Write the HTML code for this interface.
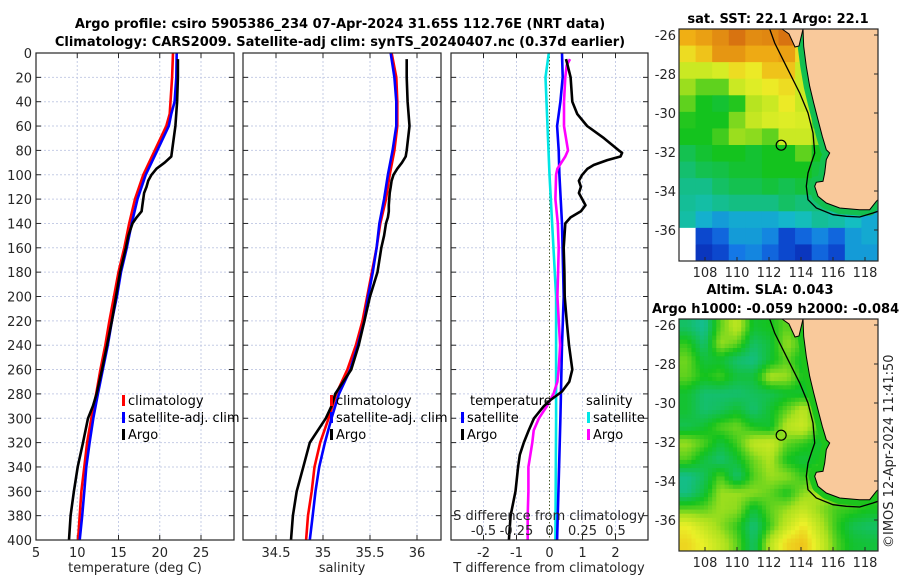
<!DOCTYPE html>
<html><head><meta charset="utf-8">
<style>
html,body{margin:0;padding:0;background:#fff;}
svg{display:block;font-family:"DejaVu Sans","Liberation Sans",sans-serif;}
.tk{font-size:13px;fill:#262626;}
.tt{font-size:13px;font-weight:bold;fill:#000;}
.lg{font-size:13px;fill:#000;}
</style></head>
<body>
<svg id="fig" width="900" height="580" viewBox="0 0 900 580" xmlns="http://www.w3.org/2000/svg">
<defs>
<clipPath id="clip-m1"><rect x="679" y="29" width="199" height="232"/></clipPath>
<clipPath id="clip-m2"><rect x="679" y="319" width="199" height="232"/></clipPath>
</defs>
<text class="tt" x="340" y="28" text-anchor="middle">Argo profile: csiro 5905386_234 07-Apr-2024 31.65S 112.76E (NRT data)</text>
<text class="tt" x="340" y="46" text-anchor="middle">Climatology: CARS2009. Satellite-adj clim: synTS_20240407.nc (0.37d earlier)</text>
<g id="p1"></g>
<g id="p2"></g>
<g id="p3"></g>
<g id="m1"></g>
<g id="m2"></g>
<text class="tt" x="778" y="23" text-anchor="middle">sat. SST: 22.1 Argo: 22.1</text>
<text class="tt" x="770" y="294" text-anchor="middle">Altim. SLA: 0.043</text>
<text class="tt" x="652" y="313">Argo h1000: -0.059 h2000: -0.084</text>
<text class="tk" x="0" y="0" transform="translate(893,548) rotate(-90)">©IMOS 12-Apr-2024 11:41:50</text>
</svg>
<script>
// ---- data ----
const depthClim = [0,20,40,50,60,80,100,120,140,160,180,200,220,240,260,280,300,320,340,360,380,400];
const tClim = [21.6,21.5,21.3,21.2,20.8,19.4,18.0,17.0,16.3,15.7,15.0,14.45,13.9,13.4,12.8,12.3,11.7,11.2,10.85,10.5,10.3,10.1];
const tSat = [22.05,22.0,21.8,21.4,21.1,19.7,18.3,17.3,16.6,16.0,15.3,14.8,14.2,13.7,13.1,12.5,11.95,11.5,11.1,10.85,10.6,10.3];
const depthArgo = [5,20,40,60,80,85,90,95,100,105,110,115,125,130,135,140,150,160,180,200,220,240,260,280,290,300,320,340,360,380,400];
const tArgo = [22.2,22.2,22.1,21.9,21.5,21.4,20.6,19.6,19.0,18.6,18.4,18.1,17.9,17.8,17.2,16.7,16.2,15.9,15.2,14.7,14.2,13.6,13.0,12.35,11.9,11.3,10.7,10.05,9.6,9.2,9.0];
const sClim = [35.73,35.78,35.79,35.79,35.79,35.76,35.71,35.67,35.61,35.57,35.52,35.47,35.42,35.35,35.26,35.14,35.06,34.97,34.91,34.88,34.84,34.82];
const sSat = [35.72,35.76,35.78,35.78,35.78,35.74,35.69,35.65,35.6,35.57,35.53,35.48,35.44,35.37,35.29,35.17,35.09,35.02,34.96,34.92,34.89,34.86];
const sArgo = [35.89,35.89,35.9,35.92,35.89,35.88,35.84,35.79,35.75,35.73,35.72,35.71,35.7,35.7,35.69,35.67,35.65,35.62,35.58,35.5,35.44,35.38,35.3,35.13,35.09,35.03,34.86,34.79,34.72,34.68,34.66];
const depthTD = [5,10,20,40,50,60,70,80,82,85,88,92,95,100,105,110,115,120,125,130,135,140,160,180,200,220,240,260,270,278,285,290,300,310,320,330,340,360,380,400];
const tDiffArgo = [0.5,0.55,0.64,0.69,0.84,1.14,1.65,2.1,2.2,2.15,1.75,1.34,1.15,0.99,0.89,0.95,0.89,0.99,1.09,0.95,0.64,0.48,0.43,0.45,0.46,0.52,0.59,0.69,0.6,0.38,0.03,-0.17,-0.47,-0.63,-0.78,-0.9,-0.95,-1.03,-1.18,-1.23];
const depthSD = [5,10,20,40,60,80,85,90,95,100,120,140,160,180,200,240,260,270,280,290,300,310,320,340,360,380,400];
const sDiffArgo = [0.155,0.13,0.12,0.11,0.11,0.14,0.12,0.09,0.06,0.05,0.045,0.063,0.07,0.065,0.06,0.08,0.07,0.06,0.03,-0.02,-0.08,-0.12,-0.13,-0.16,-0.16,-0.165,-0.165];
const depthTSat = [0,20,40,60,80,100,140,200,240,300,400];
const tDiffSat = [0.38,0.4,0.33,0.23,0.28,0.3,0.38,0.43,0.38,0.33,0.23];
const depthSSat = [0,20,100,200,300,400];
const sDiffSat = [-0.005,-0.03,0.0,0.05,0.05,0.045];
const depthTicks = [0,20,40,60,80,100,120,140,160,180,200,220,240,260,280,300,320,340,360,380,400];
const tTicks = [5,10,15,20,25];
const sTicks = [34.5,35,35.5,36];
const sTickLabels = ["34.5","35","35.5","36"];
const dTTicks = [-2,-1,0,1,2];
const dSTicks = [-0.5,-0.25,0,0.25,0.5];
const dSTickLabels = ["-0.5","-0.25","0","0.25","0.5"];
// map fields (coarse gridded values, 0..1 colour scale)
const sstGrid = [
[0.85,0.88,0.92,0.97,0.92,0.93,0.97,0.88,0.9,0.9,0.9,0.9],
[0.78,0.82,0.9,0.9,0.86,0.86,0.88,0.78,0.8,0.8,0.8,0.8],
[0.7,0.7,0.72,0.78,0.76,0.82,0.82,0.7,0.55,0.5,0.5,0.5],
[0.64,0.6,0.6,0.7,0.73,0.76,0.78,0.7,0.5,0.5,0.5,0.5],
[0.6,0.55,0.53,0.56,0.67,0.7,0.76,0.7,0.5,0.5,0.5,0.5],
[0.56,0.55,0.55,0.62,0.69,0.72,0.73,0.72,0.6,0.5,0.5,0.5],
[0.55,0.55,0.58,0.64,0.63,0.6,0.7,0.7,0.64,0.5,0.5,0.5],
[0.5,0.53,0.55,0.55,0.53,0.55,0.55,0.6,0.55,0.52,0.5,0.5],
[0.47,0.5,0.51,0.53,0.53,0.55,0.55,0.55,0.52,0.5,0.45,0.45],
[0.44,0.44,0.48,0.5,0.5,0.52,0.5,0.52,0.5,0.46,0.33,0.33],
[0.42,0.4,0.43,0.45,0.45,0.45,0.48,0.46,0.46,0.42,0.3,0.3],
[0.4,0.33,0.3,0.32,0.32,0.32,0.34,0.37,0.42,0.4,0.36,0.32],
[-1,0.17,0.22,0.3,0.3,0.27,0.17,0.22,0.27,0.22,0.3,0.32],
[-1,0.12,0.17,0.25,0.27,0.22,0.17,0.12,0.22,0.17,0.3,0.3]];
const slaGrid = [
[0.48,0.43,0.6,0.68,0.53,0.55,0.6,0.53,0.55,0.55,0.55,0.55],
[0.57,0.47,0.64,0.6,0.48,0.52,0.64,0.57,0.55,0.55,0.55,0.55],
[0.61,0.52,0.53,0.47,0.45,0.53,0.6,0.53,0.55,0.55,0.55,0.55],
[0.6,0.55,0.58,0.52,0.52,0.66,0.64,0.55,0.55,0.55,0.55,0.55],
[0.53,0.47,0.47,0.47,0.49,0.5,0.53,0.53,0.55,0.55,0.55,0.55],
[0.53,0.47,0.49,0.53,0.47,0.53,0.6,0.68,0.56,0.55,0.55,0.55],
[0.5,0.53,0.59,0.61,0.55,0.53,0.67,0.7,0.57,0.55,0.55,0.55],
[0.64,0.59,0.52,0.58,0.68,0.7,0.6,0.57,0.53,0.55,0.55,0.55],
[0.59,0.52,0.47,0.53,0.61,0.66,0.55,0.52,0.55,0.53,0.55,0.55],
[0.44,0.49,0.59,0.47,0.59,0.64,0.63,0.57,0.6,0.59,0.58,0.58],
[0.45,0.52,0.64,0.64,0.63,0.6,0.55,0.63,0.66,0.63,0.6,0.58],
[0.6,0.6,0.64,0.63,0.52,0.6,0.64,0.69,0.63,0.58,0.57,0.55],
[0.75,0.69,0.63,0.57,0.46,0.58,0.69,0.77,0.67,0.57,0.5,0.48],
[0.79,0.74,0.68,0.6,0.48,0.67,0.79,0.82,0.71,0.59,0.53,0.52]];
const mapLonTicks = [108,110,112,114,116,118];
const mapLatTicks = [-26,-28,-30,-32,-34,-36];
const argoLon = 112.76;
const argoLat = -31.65;

// ---- helpers ----
const NS = "http://www.w3.org/2000/svg";
function mk(parent, tag, attrs){ const e=document.createElementNS(NS,tag); for(const k in attrs) e.setAttribute(k,attrs[k]); parent.appendChild(e); return e; }
const TOP=53, BOT=540;
const yD = d => TOP + (d/400)*(BOT-TOP);
function linScale(v0,p0,v1,p1){ return v => p0 + (v-v0)*(p1-p0)/(v1-v0); }

function panelFrame(g, x0, x1, xTicksPos, showY){
  for(const d of depthTicks){
    const y=yD(d);
    const gl=mk(g,'line',{x1:x0,x2:x1,y1:y,y2:y,stroke:'#c6cde6','stroke-width':1,'stroke-dasharray':'2,2'});
    
    
    mk(g,'line',{x1:x0,x2:x0+5,y1:y,y2:y,stroke:'#262626','stroke-width':1});
    mk(g,'line',{x1:x1-5,x2:x1,y1:y,y2:y,stroke:'#262626','stroke-width':1});
    if(showY){
      const t=mk(g,'text',{x:x0-4,y:y+5,'text-anchor':'end',class:'tk'});
      t.textContent=d;
      
      
    }
  }
  for(const xp of xTicksPos){
    const gl=mk(g,'line',{x1:xp,x2:xp,y1:TOP,y2:BOT,stroke:'#c6cde6','stroke-width':1,'stroke-dasharray':'2,2'});
    
    
    mk(g,'line',{x1:xp,x2:xp,y1:BOT-5,y2:BOT,stroke:'#262626','stroke-width':1});
    mk(g,'line',{x1:xp,x2:xp,y1:TOP,y2:TOP+5,stroke:'#262626','stroke-width':1});
  }
}
function border(g,x0,x1){
  const r=mk(g,'rect',{x:x0,y:TOP,width:x1-x0,height:BOT-TOP,fill:'none',stroke:'#262626','stroke-width':1.2});
  
  
}
function series(g, xs, ds, sx, color, name){
  const pts = xs.map((v,i)=> sx(v).toFixed(1)+','+yD(ds[i]).toFixed(1)).join(' ');
  const p=mk(g,'polyline',{points:pts,fill:'none',stroke:color,'stroke-width':2.6,'stroke-linejoin':'round'});
  
  
}
function xLabels(g, vals, labels, sx, y){
  vals.forEach((v,i)=>{
    const t=mk(g,'text',{x:sx(v),y:y,'text-anchor':'middle',class:'tk'});
    t.textContent=labels[i];
    
    
  });
}
function legendEntry(g,x,y,color,label){
  const m=mk(g,'rect',{x:x,y:y-10,width:3,height:11,fill:color});
  
  
  const t=mk(g,'text',{x:x+6,y:y,class:'lg'});
  t.textContent=label;
  
  
}
function axTitle(g,x,y,txt,name){
  const t=mk(g,'text',{x:x,y:y,'text-anchor':'middle',class:'tk'});
  t.textContent=txt;
  
  
}

// ---- panel 1: temperature ----
(function(){
  const g=document.getElementById('p1'); const x0=36,x1=234;
  const sx=linScale(5,36,25,201);
  panelFrame(g,x0,x1,tTicks.map(sx),true);
  series(g,tClim,depthClim,sx,'#ff0000','temp-climatology-line');
  series(g,tSat,depthClim,sx,'#0000ff','temp-satellite-line');
  series(g,tArgo,depthArgo,sx,'#000000','temp-argo-line');
  border(g,x0,x1);
  xLabels(g,tTicks,tTicks.map(String),sx,557);
  axTitle(g,135,572,'temperature (deg C)','x-axis-title-temperature');
  legendEntry(g,122,405,'#ff0000','climatology');
  legendEntry(g,122,422,'#0000ff','satellite-adj. clim');
  legendEntry(g,122,439,'#000000','Argo');
})();
// ---- panel 2: salinity ----
(function(){
  const g=document.getElementById('p2'); const x0=243,x1=441;
  const sx=linScale(34.5,276,36,417);
  panelFrame(g,x0,x1,sTicks.map(sx),false);
  series(g,sClim,depthClim,sx,'#ff0000','sal-climatology-line');
  series(g,sSat,depthClim,sx,'#0000ff','sal-satellite-line');
  series(g,sArgo,depthArgo,sx,'#000000','sal-argo-line');
  border(g,x0,x1);
  xLabels(g,sTicks,sTickLabels,sx,557);
  axTitle(g,342,572,'salinity','x-axis-title-salinity');
  legendEntry(g,330,405,'#ff0000','climatology');
  legendEntry(g,330,422,'#0000ff','satellite-adj. clim');
  legendEntry(g,330,439,'#000000','Argo');
})();
// ---- panel 3: differences ----
(function(){
  const g=document.getElementById('p3'); const x0=451,x1=648;
  const sxT=linScale(0,549.5,2,615.5);
  const sxS=linScale(0,549.5,0.5,615.5);
  panelFrame(g,x0,x1,dTTicks.filter(v=>v!==0).map(sxT),false);
  const z=mk(g,'line',{x1:sxT(0),x2:sxT(0),y1:TOP,y2:BOT,stroke:'#4a5a2a','stroke-width':1,'stroke-dasharray':'1.5,2'});
  
  
  series(g,sDiffSat,depthSSat,sxS,'#00e6e6','sal-diff-satellite-line');
  series(g,tDiffSat,depthTSat,sxT,'#0000ff','temp-diff-satellite-line');
  series(g,sDiffArgo,depthSD,sxS,'#ff00ff','sal-diff-argo-line');
  series(g,tDiffArgo,depthTD,sxT,'#000000','temp-diff-argo-line');
  border(g,x0,x1);
  xLabels(g,dTTicks,dTTicks.map(String),sxT,557);
  axTitle(g,549,572,'T difference from climatology','x-axis-title-t-diff');
  axTitle(g,549,520,'S difference from climatology','x-axis-title-s-diff');
  xLabels(g,dSTicks,dSTickLabels,sxS,535);
  const t1=mk(g,'text',{x:470,y:405,class:'lg'}); t1.textContent='temperature';
  
  
  const t2=mk(g,'text',{x:586,y:405,class:'lg'}); t2.textContent='salinity';
  
  
  legendEntry(g,461,422,'#0000ff','satellite');
  legendEntry(g,461,439,'#000000','Argo');
  legendEntry(g,587,422,'#00e6e6','satellite');
  legendEntry(g,587,439,'#ff00ff','Argo');
})();

// ---- maps ----
function cmap(v){
  if(v<0) return '#ffffff';
  const stops=[[0,[10,30,150]],[0.15,[10,60,200]],[0.25,[20,120,230]],[0.35,[20,190,200]],[0.45,[20,190,130]],[0.55,[20,195,30]],[0.65,[170,225,30]],[0.75,[235,240,40]],[0.85,[240,175,20]],[1,[210,100,15]]];
  for(let i=1;i<stops.length;i++){
    if(v<=stops[i][0]){
      const a=stops[i-1],b=stops[i],f=(v-a[0])/(b[0]-a[0]);
      const c=a[1].map((x,k)=>Math.round(x+(b[1][k]-x)*f));
      return 'rgb('+c.join(',')+')';
    }
  }
  return 'rgb(210,100,15)';
}
function sample(grid,fr,fc){
  const rows=grid.length, cols=grid[0].length;
  const r=Math.min(Math.max(fr-0.5,0),rows-1), c=Math.min(Math.max(fc-0.5,0),cols-1);
  const r0=Math.floor(r), c0=Math.floor(c), r1=Math.min(r0+1,rows-1), c1=Math.min(c0+1,cols-1);
  const a=r-r0, b=c-c0;
  const g=(i,j)=>{const v=grid[i][j]; return v<0?0.2:v;};
  return (1-a)*((1-b)*g(r0,c0)+b*g(r0,c1))+a*((1-b)*g(r1,c0)+b*g(r1,c1));
}
const landPts=[[124,0],[124.7,17.3],[127.3,37.3],[130.7,57.3],[134.7,74],[139,90.7],[143.3,107.3],[147.3,120.7],[150.7,124],[147.3,130.7],[145.7,144],[144,152.3],[137.3,153.3],[135.7,157.3],[139,167.3],[147.3,174],[160.7,179],[180.7,180.7],[190.7,180.7],[197.3,172.3],[199,170.7],[199,0]];
const coastPts=landPts.slice(0,landPts.length-1);
const isoPts=[[90.7,0],[95.7,14],[107.3,37.3],[120.7,64],[129,84],[134,104],[135.7,124],[132.3,134],[129,144],[127.3,157.3],[129,170.7],[137.3,179],[154,185.7],[167.3,187.3],[180.7,188],[194,184],[199,182.3]];
function drawMap(id, grid, top, smooth){
  const outer=document.getElementById(id);
  const g=mk(outer,'g',{'clip-path':'url(#clip-'+id+')'});
  
  
  const L=679,W=199,H=232;
  const rows=grid.length, cols=grid[0].length;
  const sub = smooth ? 4 : 1;
  const cw=W/(cols*sub), ch=H/(rows*sub);
  for(let r=0;r<rows*sub;r++){
    for(let c=0;c<cols*sub;c++){
      const v = smooth ? sample(grid,(r+0.5)/sub,(c+0.5)/sub) : grid[r][c];
      const cell=mk(g,'rect',{x:(L+c*cw).toFixed(2),y:(top+r*ch).toFixed(2),width:(cw+0.6).toFixed(2),height:(ch+0.6).toFixed(2),fill:cmap(v)});
      
      
    }
  }
  const cb=mk(g,'polyline',{points:coastPts.map(p=>(L+p[0])+','+(top+p[1])).join(' '),fill:'none',stroke:smooth?'#1cc41c':'#12bf50','stroke-width':12,'stroke-linejoin':'round'});
  
  
  const land=mk(g,'polygon',{points:landPts.map(p=>(L+p[0])+','+(top+p[1])).join(' '),fill:'#f9c99b',stroke:'#000','stroke-width':1});
  
  
  const isl=mk(g,'polygon',{points:[[103,0],[110,5],[116,18],[120,17],[124,0]].map(p=>(L+p[0])+','+(top+p[1])).join(' '),fill:'#f9c99b',stroke:'#000','stroke-width':1});
  
  
  const iso=mk(g,'polyline',{points:isoPts.map(p=>(L+p[0])+','+(top+p[1])).join(' '),fill:'none',stroke:'#000','stroke-width':1.3});
  
  
  const sxm=linScale(108,705,118,865);
  const sym=linScale(-26,top+6,-36,top+201);
  const ac=mk(g,'circle',{cx:sxm(argoLon),cy:sym(argoLat),r:5,fill:'none',stroke:'#000','stroke-width':1.2});
  
  
  const fr=mk(outer,'rect',{x:L,y:top,width:W,height:H,fill:'none',stroke:'#262626','stroke-width':1.2});
  
  
  mapLonTicks.forEach(v=>{
    mk(outer,'line',{x1:sxm(v),x2:sxm(v),y1:top+H-4,y2:top+H,stroke:'#262626'});
    const t=mk(outer,'text',{x:sxm(v),y:top+H+16,'text-anchor':'middle',class:'tk'});
    t.textContent=v;
    
    
  });
  mapLatTicks.forEach(v=>{
    mk(outer,'line',{x1:L+W-4,x2:L+W,y1:sym(v),y2:sym(v),stroke:'#262626'});
    const t=mk(outer,'text',{x:L-3,y:sym(v)+5,'text-anchor':'end',class:'tk'});
    t.textContent=v;
    
    
  });
}
drawMap('m1',sstGrid,29,false);
drawMap('m2',slaGrid,319,true);
</script>
</body></html>
